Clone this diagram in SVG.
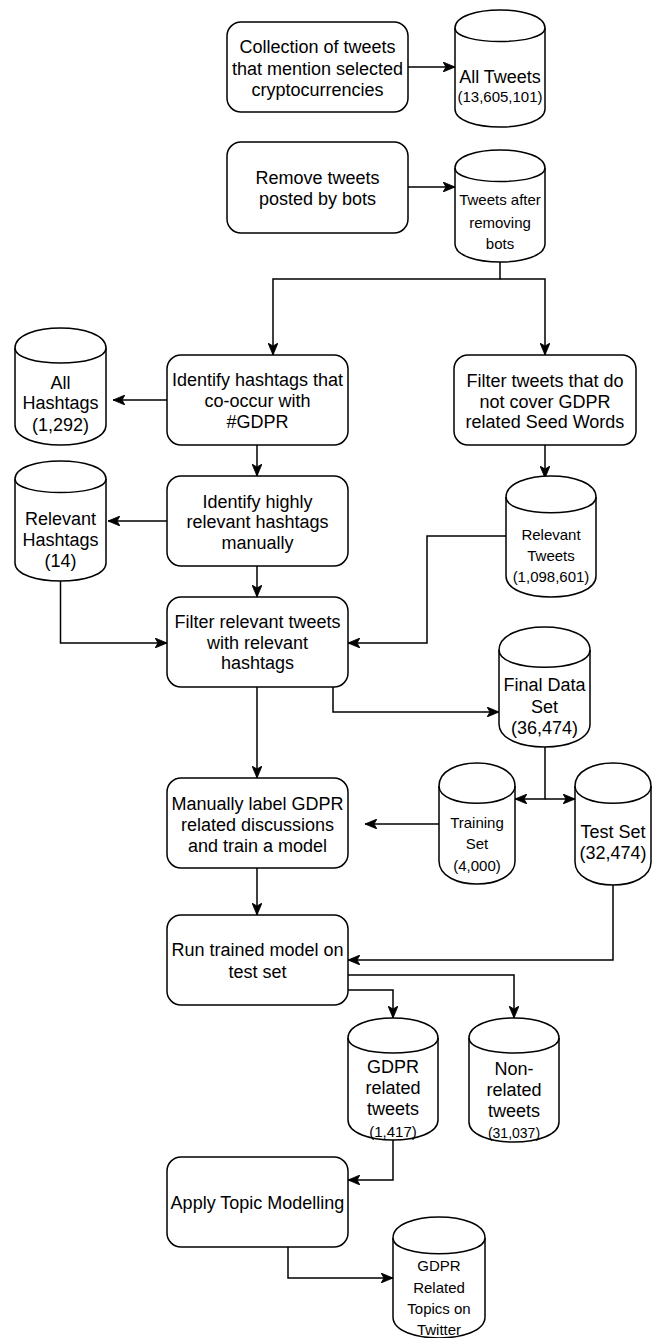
<svg xmlns="http://www.w3.org/2000/svg" width="655" height="1338" viewBox="0 0 655 1338">
<style>
.bg{fill:#ffffff}
.box{fill:#ffffff;stroke:#000000;stroke-width:1.5}
.cyl{fill:#ffffff;stroke:#000000;stroke-width:1.5}
.arc{fill:none;stroke:#000000;stroke-width:1.5}
.edge{fill:none;stroke:#000000;stroke-width:1.5}
text{font-family:"Liberation Sans",Arial,Helvetica,sans-serif;fill:#000000;text-anchor:middle}
.t18{font-size:18px}
.t15{font-size:15px}
.t14{font-size:14px}
</style>
<defs>
<marker id="arr" viewBox="0 0 12 10" refX="12" refY="5" markerWidth="12" markerHeight="10" markerUnits="userSpaceOnUse" orient="auto">
<path d="M12,5 L0,0 L3,5 L0,10 Z" fill="#000000" stroke="#000000" stroke-width="0.8"/>
</marker>
</defs>
<rect class="bg" x="0" y="0" width="655" height="1338"/>

<g id="connectors">
<path class="edge" d="M408,67 L455,67" marker-end="url(#arr)"/>
<path class="edge" d="M408,187 L455,187" marker-end="url(#arr)"/>
<path class="edge" d="M500,262 L500,279 L273,279 L273,355" marker-end="url(#arr)"/>
<path class="edge" d="M500,279 L545,279 L545,355" marker-end="url(#arr)"/>
<path class="edge" d="M167,400 L113,400" marker-end="url(#arr)"/>
<path class="edge" d="M257,445 L257,476" marker-end="url(#arr)"/>
<path class="edge" d="M545,445 L545,478" marker-end="url(#arr)"/>
<path class="edge" d="M167,521 L108,521" marker-end="url(#arr)"/>
<path class="edge" d="M257,566 L257,597" marker-end="url(#arr)"/>
<path class="edge" d="M60.5,581 L60.5,643 L167,643" marker-end="url(#arr)"/>
<path class="edge" d="M506,536 L427,536 L427,643 L348,643" marker-end="url(#arr)"/>
<path class="edge" d="M333,687 L333,712 L499,712" marker-end="url(#arr)"/>
<path class="edge" d="M257,687 L257,778" marker-end="url(#arr)"/>
<path class="edge" d="M545,747 L545,799 L515,799" marker-end="url(#arr)"/>
<path class="edge" d="M545,799 L575,799" marker-end="url(#arr)"/>
<path class="edge" d="M439,824 L365,824" marker-end="url(#arr)"/>
<path class="edge" d="M257,868 L257,915" marker-end="url(#arr)"/>
<path class="edge" d="M613,885 L613,960 L348,960" marker-end="url(#arr)"/>
<path class="edge" d="M348,975 L514,975 L514,1018" marker-end="url(#arr)"/>
<path class="edge" d="M348,990 L393,990 L393,1018" marker-end="url(#arr)"/>
<path class="edge" d="M393,1140 L393,1180 L348,1180" marker-end="url(#arr)"/>
<path class="edge" d="M288,1247 L288,1278 L393,1278" marker-end="url(#arr)"/>
</g>

<g id="n-collect">
<rect class="box" x="227" y="22" width="181" height="90" rx="14"/>
<text class="t18" x="317.5" y="53">Collection of tweets</text>
<text class="t18" x="317.5" y="74.6">that mention selected</text>
<text class="t18" x="317.5" y="96.3">cryptocurrencies</text>
</g>

<g id="n-alltweets">
<path class="cyl" d="M455,28 C455,4 545,4 545,28 L545,109 C545,133 455,133 455,109 Z"/>
<path class="arc" d="M455,28 C455,46 545,46 545,28"/>
<text class="t18" x="500" y="83">All Tweets</text>
<text class="t15" x="500" y="102">(13,605,101)</text>
</g>

<g id="n-removebots">
<rect class="box" x="227" y="142" width="181" height="91" rx="14"/>
<text class="t18" x="317.5" y="184.3">Remove tweets</text>
<text class="t18" x="317.5" y="205.3">posted by bots</text>
</g>

<g id="n-afterbots">
<path class="cyl" d="M455,168 C455,144 545,144 545,168 L545,244 C545,268 455,268 455,244 Z"/>
<path class="arc" d="M455,168 C455,186 545,186 545,168"/>
<text class="t15" x="500" y="205.3">Tweets after</text>
<text class="t15" x="500" y="227.6">removing</text>
<text class="t15" x="500" y="248.6">bots</text>
</g>

<g id="n-cooccur">
<rect class="box" x="167" y="355" width="181" height="90" rx="14"/>
<text class="t18" x="257.5" y="386.3">Identify hashtags that</text>
<text class="t18" x="257.5" y="407.3">co-occur with</text>
<text class="t18" x="257.5" y="428.3">#GDPR</text>
</g>

<g id="n-seedwords">
<rect class="box" x="454" y="355" width="182" height="90" rx="14"/>
<text class="t18" x="545" y="387.3">Filter tweets that do</text>
<text class="t18" x="545" y="408.3">not cover GDPR</text>
<text class="t18" x="545" y="428.3">related Seed Words</text>
</g>

<g id="n-allhashtags">
<path class="cyl" d="M15,348 C15,321.3 106,321.3 106,348 L106,425 C106,451.7 15,451.7 15,425 Z"/>
<path class="arc" d="M15,348 C15,368 106,368 106,348"/>
<text class="t18" x="60.5" y="389.3">All</text>
<text class="t18" x="60.5" y="409.3">Hashtags</text>
<text class="t18" x="60.5" y="431.3">(1,292)</text>
</g>

<g id="n-highly">
<rect class="box" x="167" y="476" width="181" height="90" rx="14"/>
<text class="t18" x="257.5" y="508.3">Identify highly</text>
<text class="t18" x="257.5" y="528.3">relevant hashtags</text>
<text class="t18" x="257.5" y="549.3">manually</text>
</g>

<g id="n-relhashtags">
<path class="cyl" d="M15,479 C15,455 106,455 106,479 L106,563 C106,587 15,587 15,563 Z"/>
<path class="arc" d="M15,479 C15,497 106,497 106,479"/>
<text class="t18" x="60.5" y="525.3">Relevant</text>
<text class="t18" x="60.5" y="546.3">Hashtags</text>
<text class="t18" x="60.5" y="567.3">(14)</text>
</g>

<g id="n-reltweets">
<path class="cyl" d="M506,497 C506,469 596,469 596,497 L596,576 C596,604 506,604 506,576 Z"/>
<path class="arc" d="M506,497 C506,518 596,518 596,497"/>
<text class="t15" x="551" y="540.3">Relevant</text>
<text class="t15" x="551" y="561.3">Tweets</text>
<text class="t15" x="551" y="582.3">(1,098,601)</text>
</g>

<g id="n-filterrel">
<rect class="box" x="167" y="597" width="181" height="90" rx="14"/>
<text class="t18" x="257.5" y="628.3">Filter relevant tweets</text>
<text class="t18" x="257.5" y="649.3">with relevant</text>
<text class="t18" x="257.5" y="669.3">hashtags</text>
</g>

<g id="n-finaldata">
<path class="cyl" d="M499,650 C499,619.3 590,619.3 590,650 L590,724 C590,754.7 499,754.7 499,724 Z"/>
<path class="arc" d="M499,650 C499,673 590,673 590,650"/>
<text class="t18" x="544.5" y="691.3">Final Data</text>
<text class="t18" x="544.5" y="713.3">Set</text>
<text class="t18" x="544.5" y="734.3">(36,474)</text>
</g>

<g id="n-label">
<rect class="box" x="167" y="778" width="181" height="90" rx="14"/>
<text class="t18" x="257.5" y="810.3">Manually label GDPR</text>
<text class="t18" x="257.5" y="831.3">related discussions</text>
<text class="t18" x="257.5" y="852.3">and train a model</text>
</g>

<g id="n-training">
<path class="cyl" d="M439,786 C439,755.3 515,755.3 515,786 L515,861 C515,891.7 439,891.7 439,861 Z"/>
<path class="arc" d="M439,786 C439,809 515,809 515,786"/>
<text class="t15" x="477" y="828.3">Training</text>
<text class="t15" x="477" y="849.3">Set</text>
<text class="t15" x="477" y="871.3">(4,000)</text>
</g>

<g id="n-testset">
<path class="cyl" d="M575,786 C575,755.3 651,755.3 651,786 L651,862 C651,892.7 575,892.7 575,862 Z"/>
<path class="arc" d="M575,786 C575,809 651,809 651,786"/>
<text class="t18" x="613" y="838.3">Test Set</text>
<text class="t18" x="613" y="859.3">(32,474)</text>
</g>

<g id="n-run">
<rect class="box" x="167" y="915" width="181" height="90" rx="14"/>
<text class="t18" x="257.5" y="956.3">Run trained model on</text>
<text class="t18" x="257.5" y="978">test set</text>
</g>

<g id="n-gdprtweets">
<path class="cyl" d="M348,1038 C348,1011.3 438,1011.3 438,1038 L438,1120 C438,1146.7 348,1146.7 348,1120 Z"/>
<path class="arc" d="M348,1038 C348,1058 438,1058 438,1038"/>
<text class="t18" x="393" y="1073.3">GDPR</text>
<text class="t18" x="393" y="1094.3">related</text>
<text class="t18" x="393" y="1115.3">tweets</text>
<text class="t15" x="393" y="1137.3">(1,417)</text>
</g>

<g id="n-nonrelated">
<path class="cyl" d="M469,1038 C469,1011.3 559,1011.3 559,1038 L559,1122 C559,1148.7 469,1148.7 469,1122 Z"/>
<path class="arc" d="M469,1038 C469,1058 559,1058 559,1038"/>
<text class="t18" x="514" y="1075.3">Non-</text>
<text class="t18" x="514" y="1096.3">related</text>
<text class="t18" x="514" y="1117.3">tweets</text>
<text class="t14" x="514" y="1138">(31,037)</text>
</g>

<g id="n-topicmodel">
<rect class="box" x="167" y="1157" width="181" height="90" rx="14"/>
<text class="t18" x="257.5" y="1209">Apply Topic Modelling</text>
</g>

<g id="n-topics">
<path class="cyl" d="M393,1238 C393,1210 485,1210 485,1238 L485,1317 C485,1345 393,1345 393,1317 Z"/>
<path class="arc" d="M393,1238 C393,1259 485,1259 485,1238"/>
<text class="t15" x="439" y="1271.3">GDPR</text>
<text class="t15" x="439" y="1293.3">Related</text>
<text class="t15" x="439" y="1314.3">Topics on</text>
<text class="t15" x="439" y="1335.3">Twitter</text>
</g>
</svg>
